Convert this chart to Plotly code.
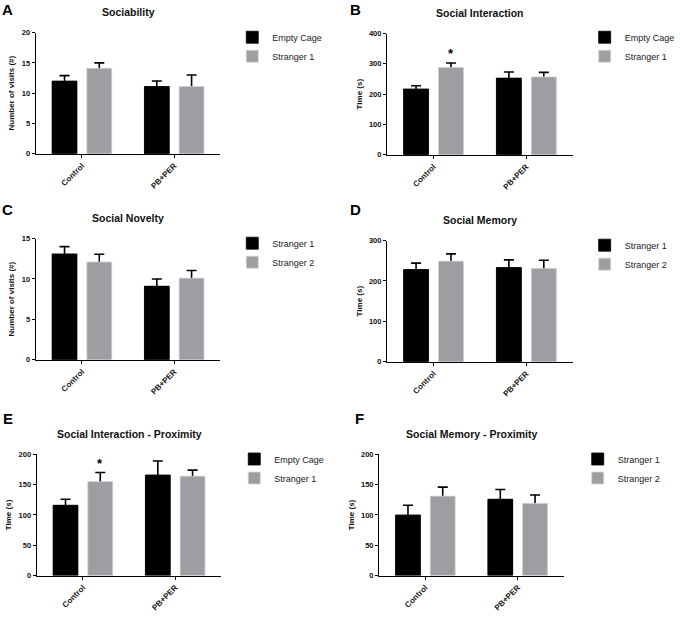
import plotly.graph_objects as go

W, H = 680, 620
FONT = "Liberation Sans, Arial, sans-serif"

categories = ["Control", "PB+PER"]

# Panel A - Sociability
a_names = ["Empty Cage", "Stranger 1"]
a_black = [12.0, 11.1]
a_black_err = [0.9, 0.9]
a_gray = [14.1, 11.1]
a_gray_err = [0.9, 1.9]

# Panel B - Social Interaction
b_names = ["Empty Cage", "Stranger 1"]
b_black = [217, 253]
b_black_err = [11, 20]
b_gray = [288, 257]
b_gray_err = [15, 15]
b_stars = ["", "*"]  # per series, on Control

# Panel C - Social Novelty
c_names = ["Stranger 1", "Stranger 2"]
c_black = [13.1, 9.1]
c_black_err = [0.9, 0.9]
c_gray = [12.1, 10.1]
c_gray_err = [0.95, 0.95]

# Panel D - Social Memory
d_names = ["Stranger 1", "Stranger 2"]
d_black = [228, 233]
d_black_err = [16, 19]
d_gray = [249, 231]
d_gray_err = [18, 20]

# Panel E - Social Interaction - Proximity
e_names = ["Empty Cage", "Stranger 1"]
e_black = [116, 166]
e_black_err = [10, 23]
e_gray = [155, 164]
e_gray_err = [15, 10]
e_stars = ["", "*"]

# Panel F - Social Memory - Proximity
f_names = ["Stranger 1", "Stranger 2"]
f_black = [100, 126]
f_black_err = [16, 16]
f_gray = [131, 119]
f_gray_err = [15, 14]

panels = [
    dict(letter="A", title="Sociability", ytitle="Number of visits (#)", names=a_names,
         vals=[a_black, a_gray], errs=[a_black_err, a_gray_err], ymax=20, dtick=5, stars=["", ""],
         box=(36, 222, 29, 152), legend=(248, 38), label=(8, 10)),
    dict(letter="B", title="Social Interaction", ytitle="Time (s)", names=b_names,
         vals=[b_black, b_gray], errs=[b_black_err, b_gray_err], ymax=400, dtick=100, stars=b_stars,
         box=(390, 577, 30, 153), legend=(603, 38), label=(358, 10)),
    dict(letter="C", title="Social Novelty", ytitle="Number of visits (#)", names=c_names,
         vals=[c_black, c_gray], errs=[c_black_err, c_gray_err], ymax=15, dtick=5, stars=["", ""],
         box=(36, 222, 238, 361), legend=(248, 247), label=(8, 213)),
    dict(letter="D", title="Social Memory", ytitle="Time (s)", names=d_names,
         vals=[d_black, d_gray], errs=[d_black_err, d_gray_err], ymax=300, dtick=100, stars=["", ""],
         box=(390, 577, 240, 363), legend=(603, 249), label=(358, 213)),
    dict(letter="E", title="Social Interaction - Proximity", ytitle="Time (s)", names=e_names,
         vals=[e_black, e_gray], errs=[e_black_err, e_gray_err], ymax=200, dtick=50, stars=e_stars,
         box=(37, 223, 457, 580), legend=(250, 466), label=(8, 425)),
    dict(letter="F", title="Social Memory - Proximity", ytitle="Time (s)", names=f_names,
         vals=[f_black, f_gray], errs=[f_black_err, f_gray_err], ymax=200, dtick=50, stars=["", ""],
         box=(382, 568, 457, 580), legend=(596, 466), label=(362, 425)),
]

colors = ["#000000", "#9e9ea2"]
edges = ["#000000", "#d4d4d6"]
BARGAP = 0.247
BARGROUPGAP = 0.286

fig = go.Figure()
layout = dict(
    width=W, height=H, margin=dict(l=0, r=0, t=0, b=0),
    paper_bgcolor="white", plot_bgcolor="white",
    barmode="group", bargap=BARGAP, bargroupgap=BARGROUPGAP,
    font=dict(family=FONT, color="#111"),
    annotations=[],
)

for i, p in enumerate(panels):
    n = "" if i == 0 else str(i + 1)
    xa, ya = "x" + n, "y" + n
    lg = "legend" + n
    x0, x1, yt, yb = p["box"]
    # error-bar carrier traces (lower half hidden behind visible bars)
    for s in range(2):
        fig.add_trace(go.Bar(
            x=categories, y=p["vals"][s], offsetgroup=str(s),
            marker=dict(color=colors[s], line=dict(width=0)),
            error_y=dict(type="data", array=p["errs"][s], symmetric=True,
                         color="black", thickness=1.6, width=5),
            showlegend=False, hoverinfo="skip", xaxis=xa, yaxis=ya, legend=lg,
        ))
    for s in range(2):
        fig.add_trace(go.Bar(
            x=categories, y=p["vals"][s], offsetgroup=str(s), name=p["names"][s],
            marker=dict(color=colors[s], line=dict(color=edges[s], width=0.8)),
            xaxis=xa, yaxis=ya, legend=lg,
        ))
    layout["xaxis" + n] = dict(
        domain=[x0 / W, x1 / W], anchor=ya, range=[-0.5, 1.5],
        showline=True, linecolor="black", linewidth=1.3, showgrid=False, zeroline=False,
        ticks="outside", ticklen=3, tickwidth=1.3, tickcolor="black",
        tickangle=-45, tickfont=dict(size=8, weight="bold", color="#111"),
    )
    layout["yaxis" + n] = dict(
        domain=[1 - yb / H, 1 - yt / H], anchor=xa, range=[0, p["ymax"]], dtick=p["dtick"],
        showline=True, linecolor="black", linewidth=1.3, showgrid=False, zeroline=False,
        ticks="outside", ticklen=3, tickwidth=1.3, tickcolor="black",
        tickfont=dict(size=7.5, weight="bold", color="#111"),
        title=dict(text=p["ytitle"], font=dict(size=8, weight="bold", color="#111"), standoff=5),
    )
    lx, ly = p["legend"]
    layout[lg] = dict(
        x=(lx - 14) / W, y=1 - (ly - 19) / H, xanchor="left", yanchor="top",
        font=dict(size=9, color="#222"), bgcolor="rgba(0,0,0,0)", tracegroupgap=0,
    )
    # subplot title
    layout["annotations"].append(dict(
        text=p["title"], xref="paper", yref="paper", x=(x0 + x1) / 2 / W, y=1 - (yt - 21) / H,
        xanchor="center", yanchor="middle", showarrow=False,
        font=dict(size=10.5, weight="bold", color="#111"),
    ))
    # panel letter
    lx2, ly2 = p["label"]
    layout["annotations"].append(dict(
        text=p["letter"], xref="paper", yref="paper", x=lx2 / W, y=1 - (ly2 - 4) / H,
        xanchor="center", yanchor="middle", showarrow=False,
        font=dict(size=15, weight="bold", color="#000"),
    ))
    # significance stars (on Control group)
    slot = (1 - BARGAP) / 2
    for s in range(2):
        if p["stars"][s]:
            layout["annotations"].append(dict(
                text=p["stars"][s], xref=xa, yref=ya,
                x=0 - slot / 2 + s * slot, y=p["vals"][s][0] + p["errs"][s][0],
                xanchor="center", yanchor="bottom", showarrow=False, yshift=0,
                font=dict(size=13, weight="bold", color="#000"),
            ))

fig.update_layout(**layout)
fig.write_html(
    "out.html",
    config={"displayModeBar": False},
    post_script="document.body.style.margin='0';document.body.style.overflow='hidden';",
)
